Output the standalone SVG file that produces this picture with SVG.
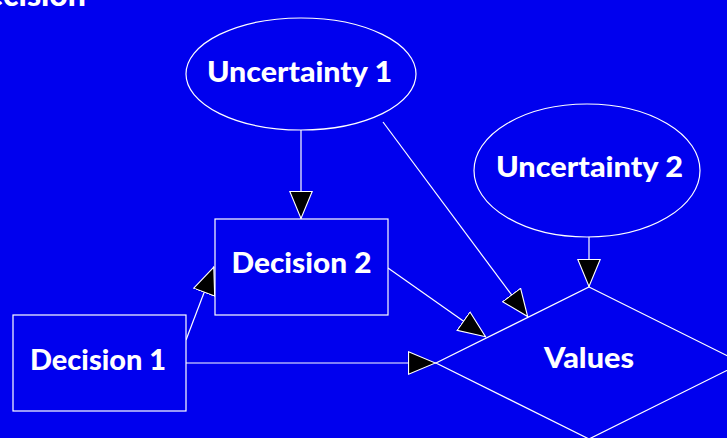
<svg xmlns="http://www.w3.org/2000/svg" width="727" height="438" viewBox="0 0 727 438">
  <style>
    .shape { fill: #0000ee; stroke: #ffffff; stroke-width: 1.2; }
    .edge { stroke: #ffffff; stroke-width: 1.2; fill: none; }
    .head { fill: #000000; stroke: #ffffff; stroke-width: 1; stroke-linejoin: miter; }
    .label { fill: #ffffff; font-family: "Lato", "Open Sans", "DejaVu Sans", sans-serif; font-weight: 900; font-size: 29px; text-anchor: middle; }
  </style>
  <defs>
    <marker id="arrow" markerUnits="userSpaceOnUse" markerWidth="28" markerHeight="24" viewBox="0 0 25 21" refX="25" refY="10.5" orient="auto">
      <path class="head" d="M0.5,0.5 L24.5,10.5 L0.5,20.5 Z"/>
    </marker>
  </defs>
  <rect width="727" height="438" fill="#0000ee"/>

  <!-- page title, partly above the top edge -->
  <text x="86" y="6" fill="#ffffff" font-family="Lato, 'Open Sans', sans-serif" font-weight="900" font-size="32" text-anchor="end">Decision</text>

  <!-- connectors -->
  <g id="connectors">
    <line class="edge" x1="301" y1="130" x2="301" y2="219" marker-end="url(#arrow)"/>
    <line class="edge" x1="186" y1="340" x2="214" y2="266.5" marker-end="url(#arrow)"/>
    <line class="edge" x1="186" y1="363" x2="436" y2="363" marker-end="url(#arrow)"/>
    <line class="edge" x1="388" y1="268" x2="486" y2="337" marker-end="url(#arrow)"/>
    <line class="edge" x1="383" y1="122" x2="528" y2="317" marker-end="url(#arrow)"/>
    <line class="edge" x1="589" y1="237" x2="589" y2="287" marker-end="url(#arrow)"/>
  </g>

  <g id="uncertainty1">
    <ellipse class="shape" cx="301" cy="74" rx="115" ry="56"/>
    <text class="label" x="299.5" y="82" textLength="185" lengthAdjust="spacingAndGlyphs">Uncertainty 1</text>
  </g>

  <g id="uncertainty2">
    <ellipse class="shape" cx="587" cy="170.5" rx="113" ry="66.5"/>
    <text class="label" x="589.5" y="177" textLength="187" lengthAdjust="spacingAndGlyphs">Uncertainty 2</text>
  </g>

  <g id="decision2">
    <rect class="shape" x="215" y="219" width="173" height="96"/>
    <text class="label" x="301.5" y="273" textLength="140" lengthAdjust="spacingAndGlyphs">Decision 2</text>
  </g>

  <g id="decision1">
    <rect class="shape" x="13" y="315" width="173" height="96"/>
    <text class="label" x="98" y="370" textLength="136" lengthAdjust="spacingAndGlyphs">Decision 1</text>
  </g>

  <g id="values">
    <polygon class="shape" points="589,287 742,363 589,439 436,363"/>
    <text class="label" x="589" y="368" textLength="90" lengthAdjust="spacingAndGlyphs">Values</text>
  </g>
</svg>
